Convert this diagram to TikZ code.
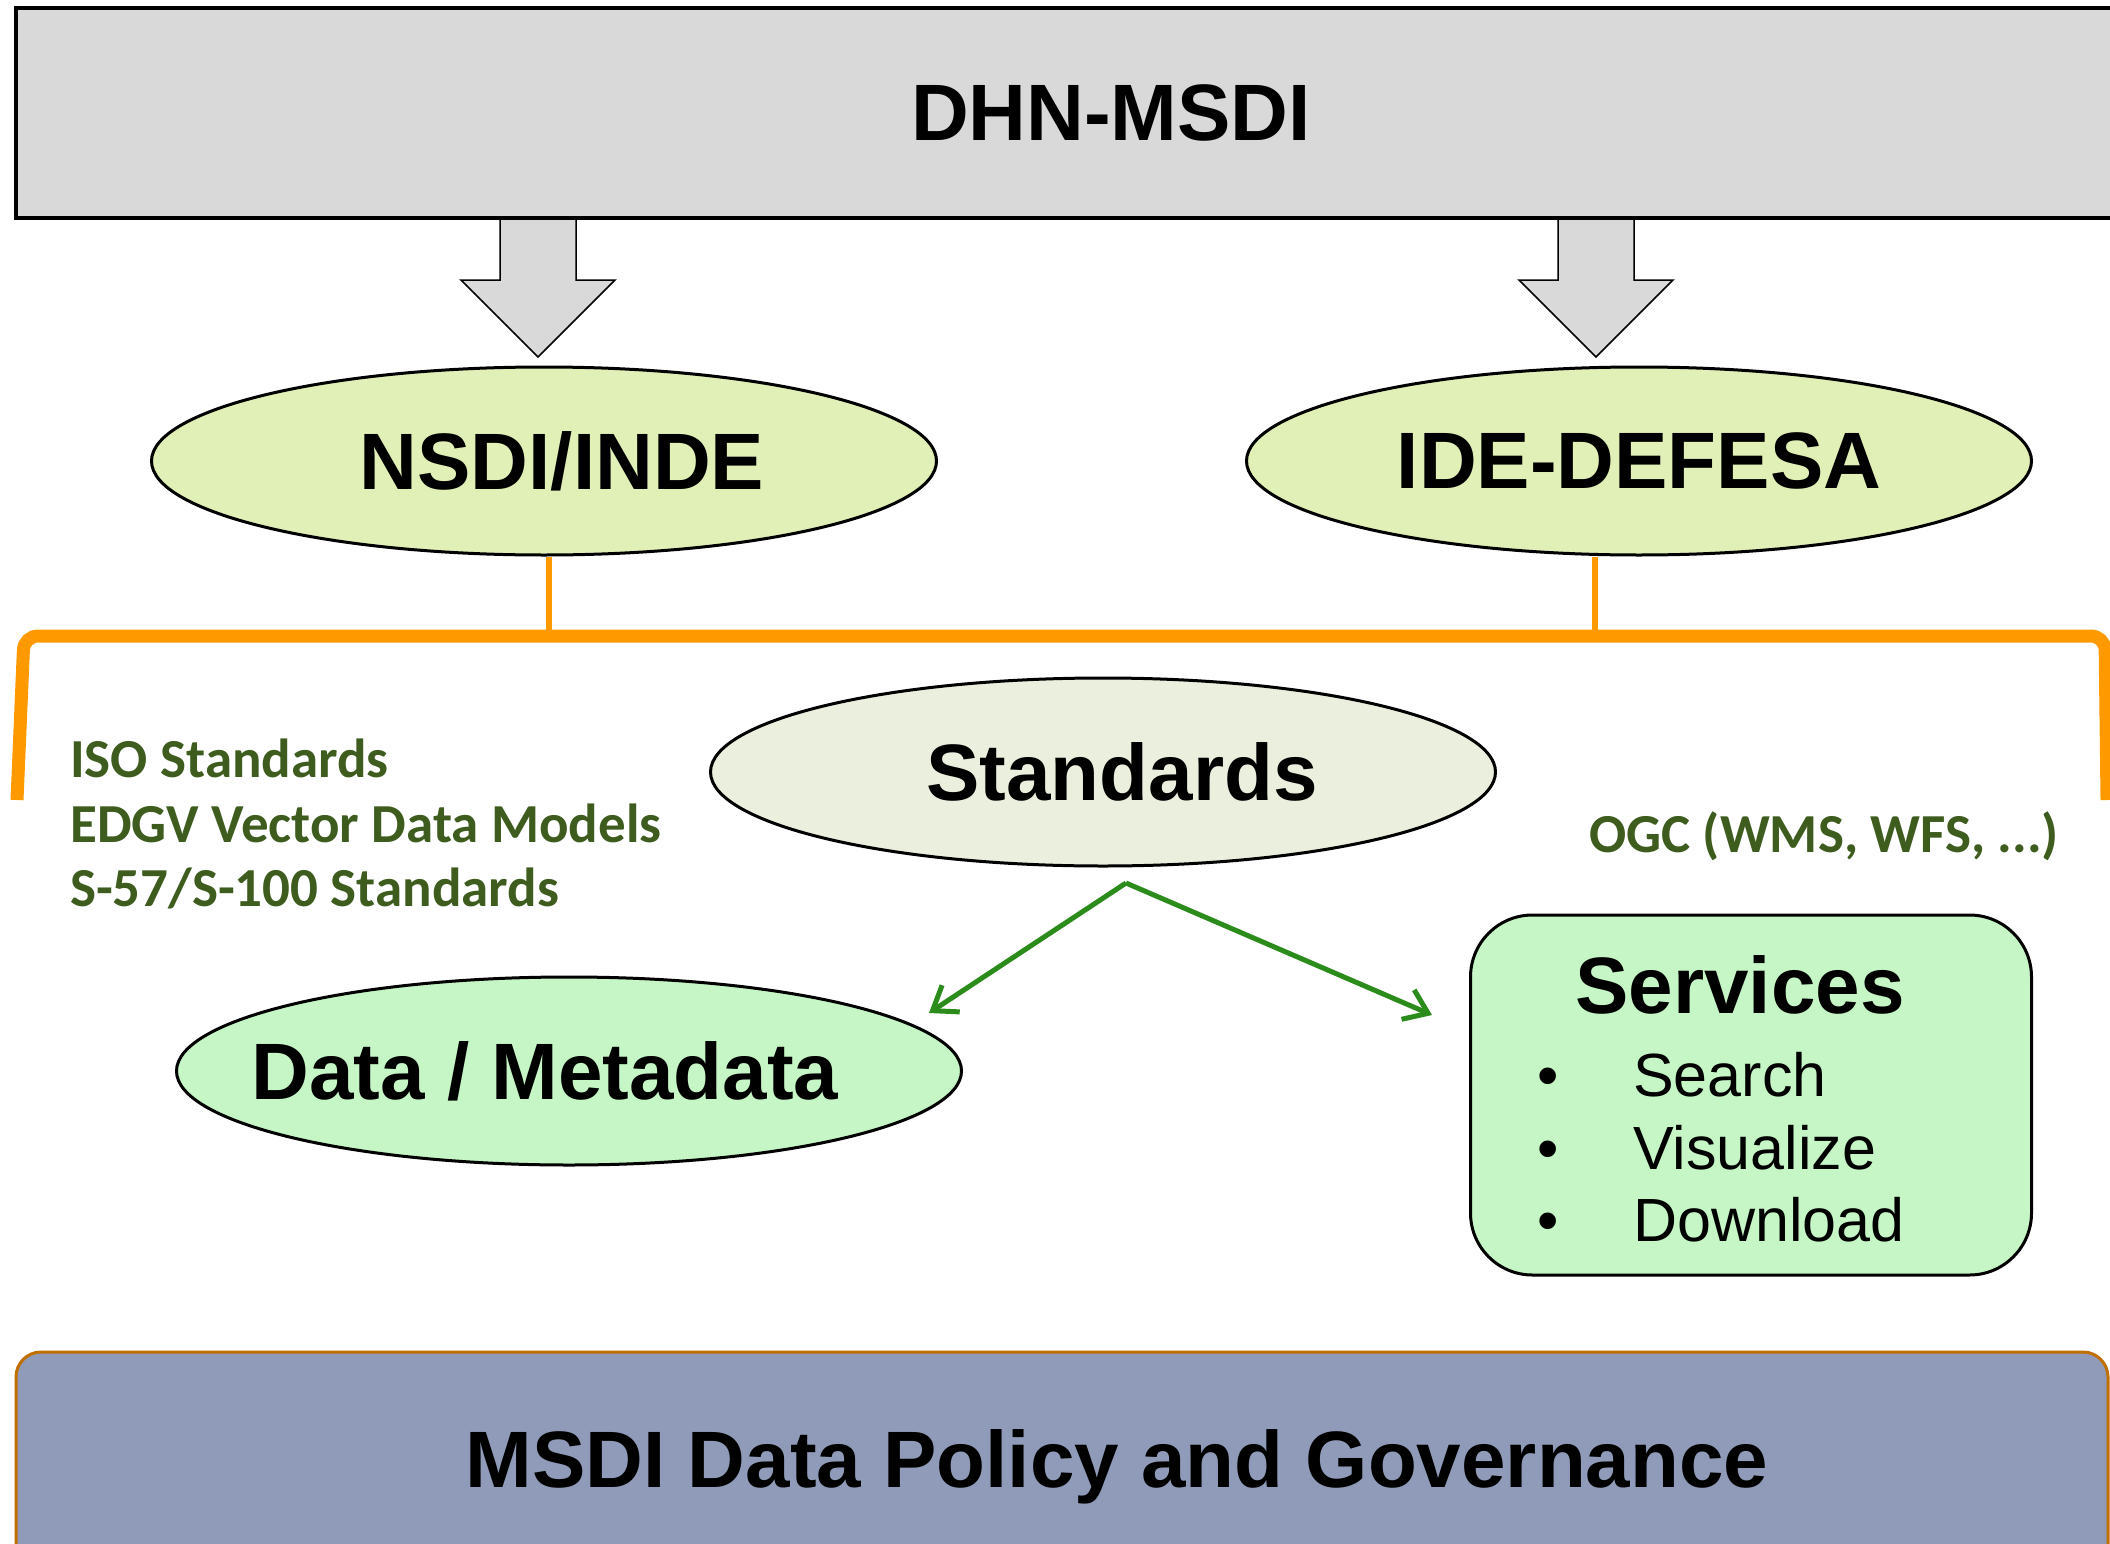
\documentclass[tikz,border=0pt]{standalone}
\usepackage{tikz}
\usetikzlibrary{shapes.geometric,arrows.meta}
\usepackage{fontspec,xcolor}
\setmainfont{Liberation Sans}
\newfontfamily\calibriFont{Carlito}
\definecolor{topGray}{HTML}{D9D9D9}
\definecolor{limeFill}{HTML}{E1F0B6}
\definecolor{paleFill}{HTML}{EBEFDD}
\definecolor{mintFill}{HTML}{C6F5C6}
\definecolor{slateFill}{HTML}{8F9BB8}
\definecolor{bracketOrange}{HTML}{FF9900}
\definecolor{policyEdge}{HTML}{C07000}
\definecolor{oliveText}{HTML}{3D5C1E}
\definecolor{arrowGreen}{HTML}{2B8C1B}
\newcommand{\bigLabel}[1]{{\fontsize{80}{96}\selectfont\bfseries #1}}
\newcommand{\ovalText}[2]{\makebox[0pt]{\hspace*{#1}\bigLabel{#2}}}
\newcommand{\stdLabel}[1]{{\calibriFont\bfseries\fontsize{55}{66}\selectfont\color{oliveText}#1}}
\newcommand{\itemLabel}[1]{{\fontsize{61}{73}\selectfont #1}}
\tikzset{
  topBar/.style={draw=black,line width=4pt,fill=topGray,inner sep=0pt},
  oval/.style={ellipse,draw=black,line width=3pt,inner sep=0pt,
    minimum width=785pt,minimum height=188pt},
  blockArrow/.style={draw=black,line width=1.5pt,fill=topGray,line join=miter},
  bracketLine/.style={draw=bracketOrange,line width=13pt,rounded corners=14pt},
  thinOrange/.style={draw=bracketOrange,line width=6pt},
  greenArrow/.style={draw=arrowGreen,line width=5pt,
    -{Straight Barb[length=22pt,width=32pt]}},
  svcBox/.style={draw=black,line width=3pt,fill=mintFill,rounded corners=62pt,
    minimum width=561pt,minimum height=360pt},
  policyBox/.style={draw=policyEdge,line width=3pt,fill=slateFill,
    rounded corners=25pt,minimum width=2092pt,minimum height=248pt},
  plainText/.style={inner sep=0pt}
}

\begin{document}
\begin{tikzpicture}[x=1pt,y=-1pt]
\useasboundingbox (0,0) rectangle (2110,1544);
\fill[white] (0,0) rectangle (2110,1544);
\clip (0,0) rectangle (2110,1544);

% top level
\foreach \ax in {538,1596}{
  \draw[blockArrow] (\ax-38,214) -- ++(76,0) -- ++(0,66) -- ++(39,0)
    -- ++(-77,77) -- ++(-77,-77) -- ++(39,0) -- cycle;
}
\node[topBar,minimum width=2190pt,minimum height=210pt] (dhn) at (1111,113)
  {\bigLabel{DHN-MSDI}};

% the two infrastructures
\node[oval,fill=limeFill] (nsdi) at (544,461) {\ovalText{36pt}{NSDI/INDE}};
\node[oval,fill=limeFill] (idedef) at (1639,461) {\ovalText{0pt}{IDE-DEFESA}};

\coordinate (bracketL) at (549,636);
\coordinate (bracketR) at (1595,636);
\draw[thinOrange] (bracketL |- nsdi.south) -- (bracketL);
\draw[thinOrange] (bracketR |- idedef.south) -- (bracketR);
\draw[bracketLine] (17,800) -- (24,636) -- (2105,636) -- (2107,800);

% standards
\node[oval,fill=paleFill] (standards) at (1103,772) {\ovalText{38pt}{Standards}};
\node[plainText,anchor=base west] (isoStd) at (70,777) {\stdLabel{ISO Standards}};
\node[plainText,anchor=base west] (edgvStd) at (70,842) {\stdLabel{EDGV Vector Data Models}};
\node[plainText,anchor=base west] (s100Std) at (70,906) {\stdLabel{S-57/S-100 Standards}};
\node[plainText,anchor=base west] (ogcStd) at (1589,852) {\stdLabel{OGC (WMS, WFS, ...)}};

\node[oval,fill=mintFill] (datameta) at (569,1071) {\ovalText{-48pt}{Data / Metadata}};

\node[svcBox] (services) at (1751,1095) {};
\node[plainText,anchor=base] (svcTitle) at (1740,1013) {\bigLabel{Services}};
\foreach \svcName/\yy in {Search/1096,Visualize/1169,Download/1241}{
  \node[plainText,anchor=base] (dot\svcName) at (1548,\yy) {\itemLabel{\textbullet}};
  \node[plainText,anchor=base west] (txt\svcName) at (1633,\yy) {\itemLabel{\svcName}};
}

\coordinate (fork) at (1126,883);
\coordinate (dataTip) at (929,1013);
\coordinate (svcTip) at (1432,1015);
\draw[greenArrow] (fork) -- (dataTip);
\draw[greenArrow] (fork) -- (svcTip);

% governance
\node[policyBox] (policy) at (1062,1476) {};
\node[plainText,anchor=base] (policyText) at (1117,1487)
  {\bigLabel{MSDI Data Policy and Governance}};
\end{tikzpicture}
\end{document}
